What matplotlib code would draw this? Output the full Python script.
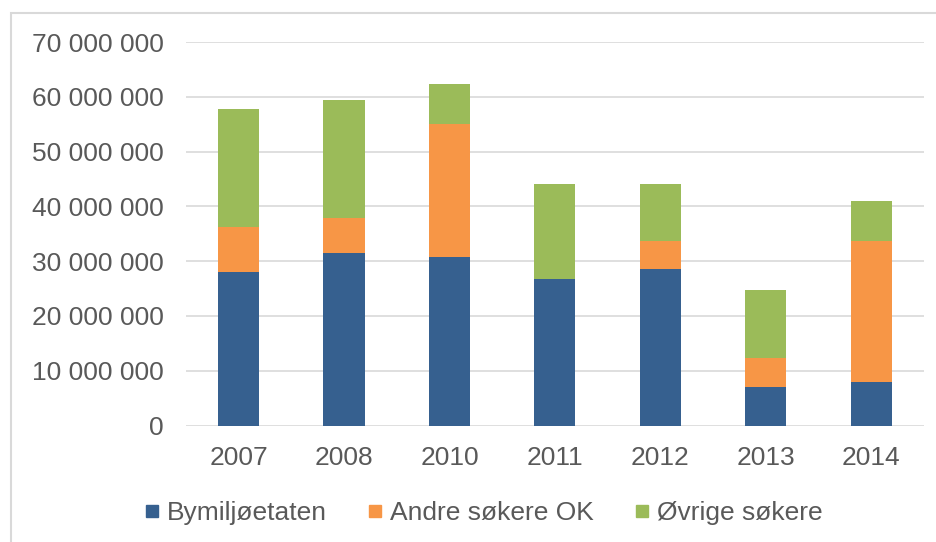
import matplotlib
matplotlib.use("Agg")
import matplotlib.pyplot as plt
from matplotlib.lines import Line2D
from matplotlib.patches import Rectangle
import numpy as np

plt.rcParams['font.family'] = ['Liberation Sans', 'DejaVu Sans']

years = ["2007", "2008", "2010", "2011", "2012", "2013", "2014"]
bymiljo = [28.0e6, 31.5e6, 30.7e6, 26.7e6, 28.6e6, 7.1e6, 7.9e6]
andre = [8.2e6, 6.4e6, 24.4e6, 0.0, 5.1e6, 5.2e6, 25.8e6]
ovrige = [21.5e6, 21.6e6, 7.2e6, 17.3e6, 10.3e6, 12.4e6, 7.3e6]
series_names = ["Bymiljøetaten", "Andre søkere OK", "Øvrige søkere"]
colors = ["#36608F", "#F79646", "#9BBB59"]
yticks = [0, 10e6, 20e6, 30e6, 40e6, 50e6, 60e6, 70e6]

W, H = 936, 542
fig = plt.figure(figsize=(W / 100, H / 100), dpi=100)
ax = fig.add_axes([185.8 / W, 1 - 425.5 / H, (924 - 185.8) / W, (425.5 - 42) / H])

x = np.arange(len(years))
b1 = np.array(bymiljo)
b2 = np.array(andre)
b3 = np.array(ovrige)
w = 0.39
ax.bar(x, b1, width=w, color=colors[0], zorder=3)
ax.bar(x, b2, width=w, bottom=b1, color=colors[1], zorder=3)
ax.bar(x, b3, width=w, bottom=b1 + b2, color=colors[2], zorder=3)

ax.set_xlim(-0.5, len(years) - 0.5)
ax.set_ylim(0, 70e6)
ax.set_yticks(yticks)
ax.set_yticklabels([f"{int(v):,}".replace(",", " ") for v in yticks])
ax.set_xticks(x)
ax.set_xticklabels(years)
ax.grid(axis='y', color='#D9D9D9', linewidth=1.2, zorder=0)
ax.set_axisbelow(True)
for s in ax.spines.values():
    s.set_visible(False)
ax.tick_params(axis='both', length=0, labelsize=19, colors='#595959')
ax.tick_params(axis='y', pad=16)
ax.tick_params(axis='x', pad=15)

handles = [Line2D([0], [0], marker='s', linestyle='none', markersize=9,
                  markerfacecolor=c, markeredgecolor=c) for c in colors]
fig.legend(handles, series_names, loc='center', bbox_to_anchor=(484 / W, 1 - 513 / H),
           ncol=3, frameon=False, fontsize=19, handlelength=0.5, handletextpad=0.3,
           columnspacing=1.6, labelcolor='#595959')

fig.add_artist(Rectangle((11 / W, -0.1), 2, (1 - 13 / H) + 0.1, transform=fig.transFigure,
                         fill=False, edgecolor='#D9D9D9', linewidth=1.5))

fig.savefig("out.png", dpi=100)
